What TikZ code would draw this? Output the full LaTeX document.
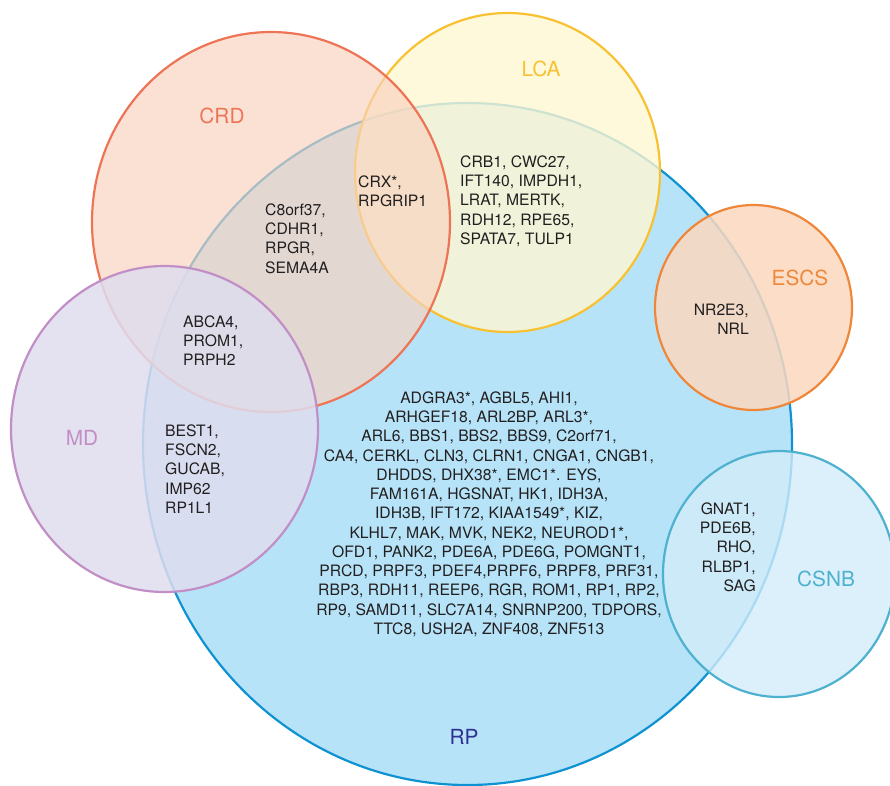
\documentclass[tikz,border=0pt]{standalone}
\usepackage{fontspec}
\setmainfont{TeX Gyre Heros}
% set fills, outlines and label colours
\definecolor{rpfill}{RGB}{183,227,248}
\definecolor{rpline}{RGB}{14,146,209}
\definecolor{rptext}{RGB}{46,49,146}
\definecolor{lcafill}{RGB}{255,247,210}
\definecolor{lcaline}{RGB}{248,193,50}
\definecolor{crdfill}{RGB}{249,210,190}
\definecolor{crdline}{RGB}{238,116,86}
\definecolor{mdfill}{RGB}{223,221,239}
\definecolor{mdline}{RGB}{193,143,197}
\definecolor{escsfill}{RGB}{251,216,190}
\definecolor{escsline}{RGB}{239,135,58}
\definecolor{csnbfill}{RGB}{210,236,249}
\definecolor{csnbline}{RGB}{77,177,207}
\definecolor{genetext}{RGB}{34,31,32}
\tikzset{
  setshape/.style={line width=2.2pt},
  genes/.style={inner sep=0pt, text=genetext,
    font=\fontsize{15.7}{19.25}\selectfont},
  setlabel/.style={inner sep=0pt, anchor=center,
    font=\fontsize{20.8}{25}\selectfont},
}
\begin{document}
\begin{tikzpicture}[x=1pt,y=-1pt]
\useasboundingbox (0,0) rectangle (890,785);
% disease sets, bottom layer first
\draw[setshape, draw=rpline, fill=rpfill] (467.5,444) ellipse [x radius=324.5pt, y radius=341pt];
\draw[setshape, draw=lcaline, fill=lcafill, fill opacity=0.8] (507.5,172.5) ellipse [x radius=152.5pt, y radius=159.5pt];
\draw[setshape, draw=crdline, fill=crdfill, fill opacity=0.66] (271,222) ellipse [x radius=179pt, y radius=190pt];
\draw[setshape, draw=mdline, fill=mdfill, fill opacity=0.85] (164.5,429) ellipse [x radius=153.5pt, y radius=163pt];
\draw[setshape, draw=escsline, fill=escsfill, fill opacity=0.85] (753.5,307.5) ellipse [x radius=98.5pt, y radius=102.5pt];
\draw[setshape, draw=csnbline, fill=csnbfill, fill opacity=0.8] (779,574) ellipse [x radius=116pt, y radius=123pt];

% set names
\node[setlabel, text=crdline] (lblCRD) at (222,116) {CRD};
\node[setlabel, text=lcaline] (lblLCA) at (541,69) {LCA};
\node[setlabel, text=escsline] (lblESCS) at (800,278) {ESCS};
\node[setlabel, text=mdline] (lblMD) at (82,438) {MD};
\node[setlabel, text=csnbline] (lblCSNB) at (826,579) {CSNB};
\node[setlabel, text=rptext] (lblRP) at (464,737) {RP};

% gene lists
\node[genes, anchor=north west, align=left] (gCrdLcaRp) at (358,175.5)
  {CRX*,\\RPGRIP1};
\node[genes, anchor=north west, align=left] (gCrdRp) at (265,203.5)
  {C8orf37,\\CDHR1,\\RPGR,\\SEMA4A};
\node[genes, anchor=north west, align=left] (gCrdMdRp) at (183,315.5)
  {ABCA4,\\PROM1,\\PRPH2};
\node[genes, anchor=north west, align=left] (gLcaRp) at (460,155.5)
  {CRB1, CWC27,\\IFT140, IMPDH1,\\LRAT, MERTK,\\RDH12, RPE65,\\SPATA7, TULP1};
\node[genes, anchor=north east, align=right] (gEscsRp) at (749,303.5)
  {NR2E3,\\NRL};
\node[genes, anchor=north west, align=left] (gMdRp) at (165,424.5)
  {BEST1,\\FSCN2,\\GUCAB,\\IMP62\\RP1L1};
\node[genes, anchor=north east, align=right] (gCsnbRp) at (756,502.5)
  {GNAT1,\\PDE6B,\\RHO,\\RLBP1,\\SAG};
\node[genes, anchor=north, align=center] (gRp) at (489,391.5)
  {ADGRA3*, AGBL5, AHI1,\\
   ARHGEF18, ARL2BP, ARL3*,\\
   ARL6, BBS1, BBS2, BBS9, C2orf71,\\
   CA4, CERKL, CLN3, CLRN1, CNGA1, CNGB1,\\
   DHDDS, DHX38*, EMC1*. EYS,\\
   FAM161A, HGSNAT, HK1, IDH3A,\\
   IDH3B, IFT172, KIAA1549*, KIZ,\\
   KLHL7, MAK, MVK, NEK2, NEUROD1*,\\
   OFD1, PANK2, PDE6A, PDE6G, POMGNT1,\\
   PRCD, PRPF3, PDEF4,PRPF6, PRPF8, PRF31,\\
   RBP3, RDH11, REEP6, RGR, ROM1, RP1, RP2,\\
   RP9, SAMD11, SLC7A14, SNRNP200, TDPORS,\\
   TTC8, USH2A, ZNF408, ZNF513};
\end{tikzpicture}
\end{document}
